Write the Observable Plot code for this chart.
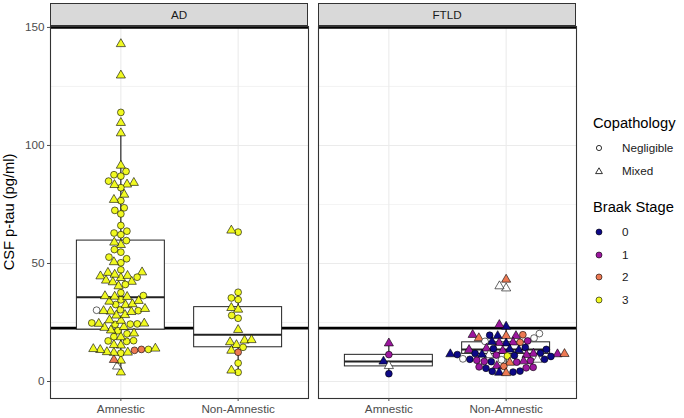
<!DOCTYPE html>
<html><head><meta charset="utf-8">
<script src="https://cdn.jsdelivr.net/npm/d3@7"></script>
<script src="https://cdn.jsdelivr.net/npm/@observablehq/plot@0.6"></script>
<style>
body{margin:0;background:#fff;font-family:"Liberation Sans",Arial,sans-serif;}
#wrap{position:relative;width:684px;height:418px;overflow:hidden;}
#wrap svg{position:absolute;left:0;top:0;}
.strip{position:absolute;top:3px;height:23px;box-sizing:border-box;background:#d9d9d9;border:1px solid #333;text-align:center;font-size:11.7px;line-height:21px;color:#1a1a1a;}
.lt{position:absolute;font-size:14.7px;color:#000;white-space:nowrap;line-height:1;}
.li{position:absolute;font-size:11.7px;color:#1a1a1a;white-space:nowrap;line-height:1;}
.ls{position:absolute;}
</style></head>
<body><div id="wrap"></div>
<script>
// ---------- data ----------
const panels = ["AD", "FTLD"];
const groups = ["Amnestic", "Non-Amnestic"];
const braakStages = ["0", "1", "2", "3"];
const braakColors = ["#0D0887", "#9C179E", "#ED7953", "#F0F921"];
const copathLevels = ["Negligible", "Mixed"];
const thresholdLines = [22.6, 150];

// AD – Amnestic
const adAmnPtau = [3.9,6.4,8.9,9.2,12.0,12.2,12.3,12.5,13.2,13.6,13.4,13.6,13.8,14.0,15.3,15.5,17.0,17.2,17.3,18.8,19.0,20.2,20.4,21.5,21.7,
  22.8,23.1,24.2,24.4,24.5,24.6,24.3,24.8,25.8,26.0,28.0,28.2,29.5,29.7,29.9,30.0,30.2,30.4,30.8,32.4,32.6,32.8,33.9,34.2,34.6,
  35.9,36.0,36.4,37.6,36.2,
  143,129.7,114,109.6,105.2,91.5,89,87,87.6,84.9,84.2,83.5,82.1,83.3,79.2,76.6,77,73.6,72.5,71,66.1,62.9,63.7,62.2,57.9,58.9,59.7,
  54.8,55.9,52,50.3,50.6,52.7,47.3,44.6,43.9,46.3,46.1,44.2,45.3,44.8,42.8,42.1,42.3,41.1,40.4];
const adAmnCopath = "MMMMNMMMNNMNMMMMNNNMNNMNM" + "MMNNMMNNMMMMMMMNNNMMNMMMN" + "MMNNM" + "MMNMMMNNNNMMNMMNMNNNNNNNMMNNNNNMNNMMMMNMMMMMNM";
const adAmnBraak = "3-32333322" + "3333333333333333333333333333333" + "-" + "3333333333333" + "3333333333333333333333333333333333333333333333";

// AD – Non-Amnestic
const adNonPtau = [63.3,64,37.8,34.7,35.4,31.2,30.5,28,26.8,21.9,17.4,16.7,17.6,15.5,14.5,13.1,12.4,7.8,3.9,4.7];
const adNonCopath = "NMNNNMMNNMMMMMNMNNNM";
const adNonBraak = "33333333333333332333";

// FTLD – Amnestic
const ftldAmnPtau = [16.2,11.4,8.5,6.6,3.3];
const ftldAmnCopath = "MNMMN";
const ftldAmnBraak = "110-0";

// FTLD – Non-Amnestic
const ftldNonPtau = [43.2,39.5,40.4,23.3,24.0,19.8,19.3,20.3,19.8,19.3,19.6,18.4,19.3,18.4,17.2,16.6,16.2,16.6,16.4,16.8,17.0,
  14.0,13.6,13.3,13.6,13.0,13.9,13.4,14.4,11.6,11.2,11.0,11.2,11.6,11.4,10.8,10.6,11.8,11.3,11.7,11.4,11.9,12.0,
  9.6,9.2,8.6,9.4,8.8,8.4,8.2,9.0,9.3,8.5,8.0,9.4,6.4,5.6,6.0,5.8,6.6,6.2,4.4,4.0,3.8,3.6,4.3];
const ftldNonCopath = "MMMMMNMNMM" + "NMMNNMMNMM" + "NMMMNMNMNM" + "NNMMMNNMMM" + "NNNNNMNNNN" + "NMNMNNNNNM" + "NNNMMN";
const ftldNonBraak = "2--0122-10" + "021-110210" + "-100010101" + "10-0030112" + "000--10101" + "1-12020111" + "100020";

// Box-plot statistics (AD-Amn, AD-Non, FTLD-Amn, FTLD-Non)
const boxPanel = ["AD", "AD", "FTLD", "FTLD"];
const boxGroup = ["Amnestic", "Non-Amnestic", "Amnestic", "Non-Amnestic"];
const boxLow  = [3.9, 3.9, 3.3, 3.6];
const boxQ1   = [22.0, 14.5, 6.4, 11.7];
const boxMed  = [35.7, 19.8, 8.5, 13.6];
const boxQ3   = [59.7, 31.5, 11.3, 16.6];
const boxHigh = [105.2, 37.8, 16.2, 24.0];

// ---------- layout ----------
const W = 684, H = 418, mL = 50, mR = 108, mT = 26, mB = 20, gap = 10;
const yDom = [-7.2, 150.4], xDom = [0.4, 2.6], boxHalf = 0.375;
const panelW = (W - mL - mR - gap) / 2, panelH = H - mT - mB;
const kx = panelW / (xDom[1] - xDom[0]), ky = panelH / (yDom[1] - yDom[0]);
const DIAM = 7;

function swarm(vals) {
  const idx = d3.range(vals.length).sort((a, b) => vals[a] - vals[b]);
  const placed = [], off = new Array(vals.length);
  for (const i of idx) {
    const y = vals[i] * ky;
    const near = placed.filter(p => Math.abs(p.y - y) < DIAM);
    const cands = [0];
    for (const p of near) { const dx = Math.sqrt(DIAM * DIAM - (p.y - y) ** 2); cands.push(p.x + dx, p.x - dx); }
    cands.sort((a, b) => Math.abs(a) - Math.abs(b) || a - b);
    let x = 0;
    for (const c of cands) {
      if (near.every(p => (p.x - c) ** 2 + (p.y - y) ** 2 >= DIAM * DIAM - 1e-6)) { x = c; break; }
    }
    off[i] = x; placed.push({x, y});
  }
  return off;
}

const sets = [
  ["AD", "Amnestic", adAmnPtau, adAmnCopath, adAmnBraak],
  ["AD", "Non-Amnestic", adNonPtau, adNonCopath, adNonBraak],
  ["FTLD", "Amnestic", ftldAmnPtau, ftldAmnCopath, ftldAmnBraak],
  ["FTLD", "Non-Amnestic", ftldNonPtau, ftldNonCopath, ftldNonBraak]
];
const points = [];
for (const [panel, group, vals, cop, br] of sets) {
  const off = swarm(vals);
  const pos = groups.indexOf(group) + 1;
  vals.forEach((v, i) => points.push({
    panel, group, ptau: v, xpos: pos + off[i] / kx,
    copath: cop[i] === "M" ? "Mixed" : "Negligible",
    braak: br[i] === "-" ? null : br[i]
  }));
}
const boxes = boxPanel.map((p, i) => ({
  panel: p, pos: groups.indexOf(boxGroup[i]) + 1,
  low: boxLow[i], q1: boxQ1[i], med: boxMed[i], q3: boxQ3[i], high: boxHigh[i]
}));

const plot = Plot.plot({
  width: W, height: H,
  marginLeft: mL, marginRight: mR, marginTop: mT, marginBottom: mB,
  style: {fontFamily: "Liberation Sans, Arial, sans-serif", fontSize: "11.7px", background: "white", color: "#4d4d4d"},
  fx: {domain: panels, paddingInner: gap / (panelW + gap), paddingOuter: 0, axis: null, label: null},
  x: {domain: xDom, label: null},
  y: {domain: yDom, label: null},
  marks: [
    Plot.gridY([25, 75, 125], {stroke: "#ebebeb", strokeOpacity: 1, strokeWidth: 0.6}),
    Plot.gridY([0, 50, 100, 150], {stroke: "#ebebeb", strokeOpacity: 1, strokeWidth: 1.1}),
    Plot.gridX([1, 2], {stroke: "#ebebeb", strokeOpacity: 1, strokeWidth: 1.1}),
    Plot.ruleY(thresholdLines, {stroke: "black", strokeWidth: 2.6}),
    Plot.ruleX(boxes, {fx: "panel", x: "pos", y1: "low", y2: "q1", stroke: "#000", strokeWidth: 1}),
    Plot.ruleX(boxes, {fx: "panel", x: "pos", y1: "q3", y2: "high", stroke: "#000", strokeWidth: 1}),
    Plot.rect(boxes, {fx: "panel", x1: d => d.pos - boxHalf, x2: d => d.pos + boxHalf, y1: "q1", y2: "q3", fill: "white", stroke: "#222", strokeWidth: 1}),
    Plot.ruleY(boxes, {fx: "panel", y: "med", x1: d => d.pos - boxHalf, x2: d => d.pos + boxHalf, stroke: "#222", strokeWidth: 2}),
    Plot.dot(points, {fx: "panel", x: "xpos", y: "ptau", r: 3.4,
      symbol: d => d.copath === "Mixed" ? "triangle" : "circle",
      fill: d => d.braak === null ? "white" : braakColors[braakStages.indexOf(d.braak)],
      stroke: "black", strokeWidth: 0.6}),
    Plot.frame({stroke: "#333", strokeWidth: 1.1}),
    Plot.axisY({ticks: [0, 50, 100, 150], tickSize: 3, tickPadding: 3, label: null, color: "#4d4d4d"}),
    Plot.axisX({ticks: [1, 2], tickFormat: d => groups[d - 1], tickSize: 3, tickPadding: 3, label: null, color: "#4d4d4d"})
  ]
});

const wrap = document.getElementById("wrap");
wrap.appendChild(plot);
d3.select(plot).append("text")
  .attr("transform", `translate(14,${mT + panelH / 2}) rotate(-90)`)
  .attr("text-anchor", "middle").attr("fill", "#000").attr("font-size", "14.7px")
  .text("CSF p-tau (pg/ml)");

// facet strips
panels.forEach((p, i) => {
  const s = document.createElement("div");
  s.className = "strip";
  s.style.left = (mL + i * (panelW + gap)) + "px";
  s.style.width = panelW + "px";
  s.textContent = p;
  wrap.appendChild(s);
});

// legends
function addText(cls, txt, left, cy) {
  const e = document.createElement("div"); e.className = cls; e.textContent = txt;
  e.style.left = left + "px"; e.style.top = (cy - (cls === "lt" ? 7.5 : 6)) + "px"; wrap.appendChild(e);
}
function addSym(kind, fill, cx, cy) {
  const ns = "http://www.w3.org/2000/svg";
  const s = document.createElementNS(ns, "svg");
  s.setAttribute("width", 12); s.setAttribute("height", 12); s.setAttribute("class", "ls");
  s.style.left = (cx - 6) + "px"; s.style.top = (cy - 6) + "px";
  let e;
  if (kind === "circle") { e = document.createElementNS(ns, "circle"); e.setAttribute("cx", 6); e.setAttribute("cy", 6); e.setAttribute("r", fill === "white" ? 2.6 : 3); }
  else { e = document.createElementNS(ns, "path"); e.setAttribute("d", "M6,2.8 L9.4,8.6 L2.6,8.6 Z"); }
  e.setAttribute("fill", fill); e.setAttribute("stroke", "black"); e.setAttribute("stroke-width", fill === "white" ? 0.8 : 0.6);
  s.appendChild(e); wrap.appendChild(s);
}
addText("lt", "Copathology", 593, 123);
copathLevels.forEach((c, i) => {
  addSym(i === 0 ? "circle" : "triangle", "white", 599, 148 + i * 23);
  addText("li", c, 622, 148 + i * 23);
});
addText("lt", "Braak Stage", 593, 207);
braakStages.forEach((b, i) => {
  addSym("circle", braakColors[i], 599, 232 + i * 22.7);
  addText("li", b, 622, 232 + i * 22.7);
});
</script>
</body></html>
